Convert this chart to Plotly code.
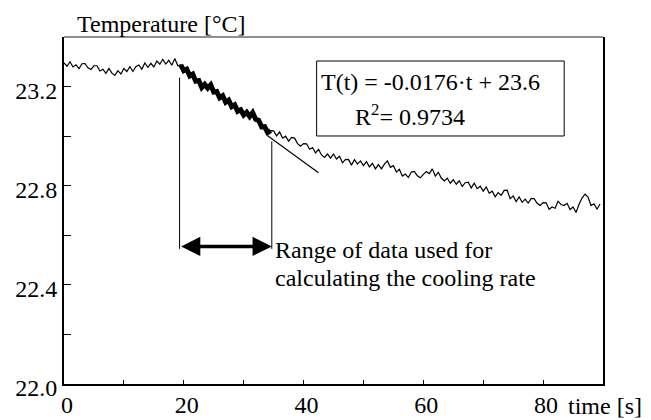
import numpy as np
import plotly.graph_objects as go

# Sampling times [s], one reading every 0.5 s
time_s = np.arange(0, 90, 0.5)

# Measured temperature [°C] before the cooling range (0 - 19 s)
temp_before = [
    23.296, 23.282, 23.300, 23.279, 23.288, 23.272, 23.292, 23.293, 23.276, 23.269,
    23.284, 23.284, 23.263, 23.270, 23.253, 23.273, 23.254, 23.245, 23.264, 23.251,
    23.273, 23.261, 23.280, 23.261, 23.280, 23.287, 23.270, 23.295, 23.278, 23.294,
    23.279, 23.303, 23.290, 23.310, 23.291, 23.306, 23.286, 23.313, 23.284,
]
# Readings used for the linear fit (19.5 - 34.5 s)
temp_fit = [
    23.288, 23.264, 23.270, 23.243, 23.250, 23.222, 23.224, 23.196, 23.209, 23.194,
    23.207, 23.178, 23.180, 23.155, 23.163, 23.137, 23.145, 23.119, 23.126, 23.100,
    23.106, 23.085, 23.096, 23.079, 23.095, 23.068, 23.064, 23.037, 23.038, 23.014,
    23.022,
]
# Readings after the fit range (35 - 89.5 s)
temp_after = [
    23.021, 23.001, 23.017, 22.992, 23.000, 22.980, 22.995, 22.992, 22.970, 22.959,
    22.970, 22.969, 22.947, 22.954, 22.932, 22.947, 22.924, 22.914, 22.928, 22.911,
    22.928, 22.908, 22.919, 22.893, 22.905, 22.906, 22.883, 22.905, 22.887, 22.900,
    22.881, 22.897, 22.876, 22.890, 22.868, 22.885, 22.868, 22.887, 22.900, 22.874,
    22.881, 22.855, 22.866, 22.839, 22.847, 22.833, 22.855, 22.858, 22.840, 22.832,
    22.846, 22.857, 22.849, 22.868, 22.839, 22.854, 22.831, 22.819, 22.830, 22.810,
    22.824, 22.806, 22.820, 22.797, 22.812, 22.814, 22.791, 22.810, 22.788, 22.798,
    22.778, 22.795, 22.770, 22.778, 22.755, 22.772, 22.761, 22.781, 22.782, 22.748,
    22.759, 22.736, 22.755, 22.733, 22.746, 22.730, 22.748, 22.748, 22.729, 22.720,
    22.732, 22.731, 22.705, 22.714, 22.709, 22.737, 22.724, 22.720, 22.729, 22.704,
    22.714, 22.692, 22.725, 22.750, 22.766, 22.754, 22.720, 22.727, 22.705, 22.726,
]
temperature = np.array(temp_before + temp_fit + temp_after)

# Linear fit of the cooling range
FIT_RANGE = (19.3, 34.7)
FIT_SLOPE = -0.0176
FIT_INTERCEPT = 23.6
FIT_R2 = 0.9734
FIT_LINE_T = [34.0, 42.5]

# Range bracket: tops of the two vertical markers and level of the arrow
BRACKET_TOP = [23.236, 22.979]
BRACKET_BOTTOM = 22.545
ARROW_LEVEL = 22.555

x_ticks = [0, 20, 40, 60, 80]
x_minor = [10, 30, 50, 70]
y_ticks = [22.0, 22.4, 22.8, 23.2]
y_minor = [22.2, 22.6, 23.0]

FONT = "Liberation Serif"
BLACK = "#000000"

fig = go.Figure()

fig.add_trace(go.Scatter(
    x=time_s, y=temperature, mode="lines",
    line=dict(color=BLACK, width=1.2), hoverinfo="skip", showlegend=False,
))

in_fit = (time_s >= FIT_RANGE[0]) & (time_s <= FIT_RANGE[1])
fig.add_trace(go.Scatter(
    x=time_s[in_fit], y=temperature[in_fit], mode="lines",
    line=dict(color=BLACK, width=5), hoverinfo="skip", showlegend=False,
))

fit_t = np.array(FIT_LINE_T)
fig.add_trace(go.Scatter(
    x=fit_t, y=FIT_SLOPE * fit_t + FIT_INTERCEPT, mode="lines",
    line=dict(color=BLACK, width=1.2), hoverinfo="skip", showlegend=False,
))

# Vertical markers bounding the fit range
for t_edge, top in zip(FIT_RANGE, BRACKET_TOP):
    fig.add_shape(type="line", xref="x", yref="y",
                  x0=t_edge, x1=t_edge, y0=top, y1=BRACKET_BOTTOM,
                  line=dict(color=BLACK, width=1))

# Double-headed arrow spanning the fit range
fig.add_annotation(
    x=FIT_RANGE[1], y=ARROW_LEVEL, ax=FIT_RANGE[0], ay=ARROW_LEVEL,
    xref="x", yref="y", axref="x", ayref="y", text="",
    showarrow=True, arrowside="end+start", arrowhead=2,
    arrowsize=1.1, arrowwidth=3.5, arrowcolor=BLACK, standoff=0, startstandoff=0,
)

# Top frame line
fig.add_shape(type="line", xref="paper", yref="paper", x0=0, x1=1, y0=1, y1=1,
              line=dict(color="#222222", width=1))

# Equation box
fig.add_shape(type="rect", xref="paper", yref="paper",
              x0=0.4687, x1=0.928, y0=0.7147, y1=0.9308,
              line=dict(color=BLACK, width=1), fillcolor="white")

text_font = dict(family=FONT, size=24, color=BLACK)
fig.add_annotation(xref="paper", yref="paper", x=0.6797, y=0.8703,
                   text=f"T(t) = {FIT_SLOPE}·t + {FIT_INTERCEPT}",
                   showarrow=False, xanchor="center", yanchor="middle", font=text_font)
fig.add_annotation(xref="paper", yref="paper", x=0.6416, y=0.7752,
                   text=f"R<sup>2</sup>= {FIT_R2}",
                   showarrow=False, xanchor="center", yanchor="middle", font=text_font)

fig.add_annotation(xref="paper", yref="paper", x=0.388, y=0.3862,
                   text="Range of data used for",
                   showarrow=False, xanchor="left", yanchor="middle", font=text_font)
fig.add_annotation(xref="paper", yref="paper", x=0.388, y=0.3055,
                   text="calculating the cooling rate",
                   showarrow=False, xanchor="left", yanchor="middle", font=text_font)

# Axis captions
fig.add_annotation(xref="paper", yref="paper", x=0.0205, y=1.0375,
                   text="Temperature [°C]",
                   showarrow=False, xanchor="left", yanchor="middle", font=text_font)
fig.add_annotation(xref="paper", yref="paper", x=0.9318, y=-0.062,
                   text="time [s]",
                   showarrow=False, xanchor="left", yanchor="middle", font=text_font)

fig.update_layout(
    width=651, height=420,
    margin=dict(l=64, r=48, t=37, b=36, autoexpand=False),
    paper_bgcolor="white", plot_bgcolor="white",
    font=dict(family=FONT, size=24, color=BLACK),
    xaxis=dict(
        range=[0, 90], tickvals=x_ticks, ticks="inside", ticklen=4, tickwidth=1,
        tickcolor=BLACK, automargin=False,
        minor=dict(tickvals=x_minor, ticks="inside", ticklen=4, tickwidth=1, tickcolor=BLACK),
        showline=True, linewidth=2, linecolor=BLACK, mirror=False,
        showgrid=False, zeroline=False, ticklabelshift=3, ticklabelstandoff=-2,
        tickfont=dict(family=FONT, size=24, color=BLACK),
    ),
    yaxis=dict(
        range=[22.0, 23.4], tickvals=y_ticks, tickformat=".1f", ticks="inside",
        ticklen=7, tickwidth=1, tickcolor=BLACK, automargin=False,
        minor=dict(tickvals=y_minor, ticks="inside", ticklen=7, tickwidth=1, tickcolor=BLACK),
        showline=True, linewidth=2, linecolor=BLACK, mirror=True,
        showgrid=False, zeroline=False, ticklabelshift=4,
        tickfont=dict(family=FONT, size=24, color=BLACK),
    ),
)

fig.write_html("out.html")
